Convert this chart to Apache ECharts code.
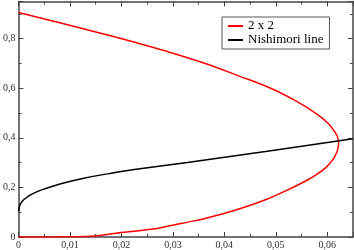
<!DOCTYPE html>
<html><head><meta charset="utf-8">
<script src="https://cdn.jsdelivr.net/npm/echarts@6/dist/echarts.min.js"></script>
<style>html,body{margin:0;padding:0;background:#fff}#c{width:354px;height:250px}</style>
</head><body><div id="c"></div>
<script>
var seriesNames = ["2 x 2", "Nishimori line"];
var redX = [0, 0.0107, 0.0201, 0.0286, 0.0363, 0.0428, 0.0490, 0.0538, 0.0577, 0.0601, 0.0616, 0.06215, 0.0622, 0.06212, 0.0619, 0.0611, 0.0596, 0.0579, 0.0557, 0.0518, 0.0481, 0.0449, 0.0419, 0.0387, 0.0355, 0.0329, 0.0294, 0.0257, 0.0199, 0.0148, 0.0100, 0.0050, 0];
var redY = [0.906, 0.850, 0.800, 0.750, 0.700, 0.650, 0.600, 0.550, 0.500, 0.460, 0.420, 0.392, 0.378, 0.362, 0.345, 0.312, 0.278, 0.252, 0.225, 0.185, 0.151, 0.127, 0.107, 0.088, 0.071, 0.060, 0.045, 0.031, 0.018, 0.004, 0.0008, 0.0002, 0.000];
var blackX = [0, 0.0002, 0.0005, 0.0010, 0.0020, 0.0030, 0.0045, 0.0065, 0.0090, 0.0129, 0.0180, 0.0225, 0.0328, 0.0480, 0.0650];
var blackY = [0.104, 0.124, 0.138, 0.150, 0.166, 0.177, 0.190, 0.204, 0.219, 0.238, 0.257, 0.272, 0.301, 0.345, 0.396];
var xTicks = [0, 0.01, 0.02, 0.03, 0.04, 0.05, 0.06];
var yTicks = [0, 0.2, 0.4, 0.6, 0.8];

function pairs(xs, ys){ return xs.map(function(x,i){ return [x, ys[i]]; }); }
function fmt(list, dec){
  return function(v){
    for (var i=0;i<list.length;i++){ if (Math.abs(list[i]-v) < 1e-9) return list[i]===0 ? '0' : list[i].toFixed(dec).replace('.', ','); }
    return '';
  };
}
var axisCol = '#444';
var font = 'Liberation Serif';
function xAx(pos, show){
  return {type:'value', position:pos, min:0, max:0.065, interval:0.01,
    axisLine:{show:true, onZero:false, lineStyle:{color:axisCol, width:1.5}},
    axisTick:{show:true, inside:true, length:5, lineStyle:{color:axisCol}},
    minorTick:{show:true, splitNumber:2, length:3, lineStyle:{color:axisCol}},
    splitLine:{show:false},
    axisLabel:{show:show, formatter:fmt(xTicks,2), fontFamily:font, fontSize:10, color:'#333', margin:3, showMaxLabel:false}
  };
}
function yAx(pos, show){
  return {type:'value', position:pos, min:0, max:0.95, interval:0.2,
    axisLine:{show:true, onZero:false, lineStyle:{color:axisCol, width:1.5}},
    axisTick:{show:true, inside:true, length:5, lineStyle:{color:axisCol}},
    minorTick:{show:true, splitNumber:2, length:3, lineStyle:{color:axisCol}},
    splitLine:{show:false},
    axisLabel:{show:show, formatter:fmt(yTicks,1), fontFamily:font, fontSize:10, color:'#333', margin:3, showMaxLabel:false}
  };
}
var chart = echarts.init(document.getElementById('c'), null, {renderer:'canvas'});
chart.setOption({
  animation:false,
  backgroundColor:'#fff',
  grid:{left:16, right:1, top:1.5, bottom:12.3, containLabel:false},
  xAxis:[xAx('bottom', true), xAx('top', false)],
  yAxis:[yAx('left', true), yAx('right', false)],
  legend:{orient:'vertical', left:222, top:17, padding:[2,6,2,5], itemGap:0,
    itemWidth:15, itemHeight:14, borderColor:'#555', borderWidth:1, backgroundColor:'#fff',
    itemStyle:{opacity:0},
    textStyle:{fontFamily:font, fontSize:13, color:'#000', lineHeight:14},
    data:seriesNames},
  series:[
    {name:seriesNames[0], type:'line', data:pairs(redX, redY), symbol:'none', smooth:0.4,
     lineStyle:{color:'#ff0000', width:1.5}, itemStyle:{color:'#ff0000'}},
    {name:seriesNames[1], type:'line', data:pairs(blackX, blackY), symbol:'none', smooth:0.3,
     lineStyle:{color:'#000', width:1.5}, itemStyle:{color:'#000'}}
  ]
});
</script></body></html>
